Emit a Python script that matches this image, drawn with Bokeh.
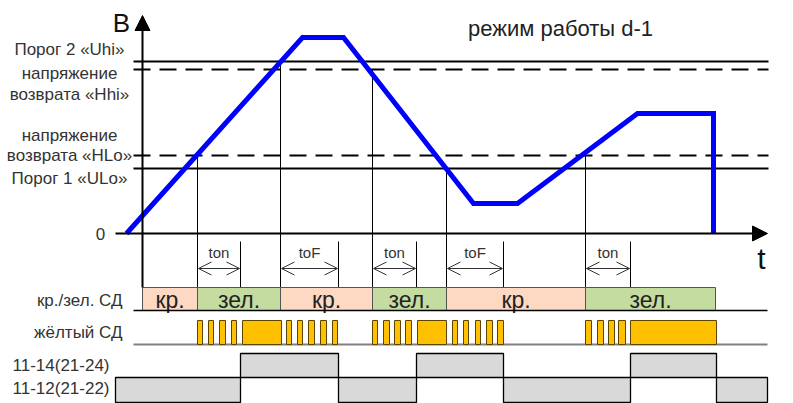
from bokeh.plotting import figure
from bokeh.models import Range1d, Arrow, NormalHead, OpenHead
from bokeh.core.properties import value
from bokeh.embed import file_html
from bokeh.resources import INLINE

# ---------------- data (time t, voltage v) ----------------
title = "режим работы d-1"
axis_v_label = "B"
axis_t_label = "t"
zero_label = "0"

voltage_t = [-16, 160, 201, 331, 375, 495, 571, 571]
voltage_v = [0, 196, 196, 30, 30, 120, 120, 0]

thr_top_label = "Порог 2 «Uhi»"
thr_hhi_label = ["напряжение", "возврата «Hhi»"]
thr_hlo_label = ["напряжение", "возврата «HLo»"]
thr_bot_label = "Порог 1 «ULo»"
thr_solid = [172, 65]          # Uhi, ULo
thr_dashed = [164, 78]         # Hhi, HLo

event_t = [55, 138, 230, 304, 443]
event_level = [78, 172, 164, 65, 78]
delay_end_t = [98, 196, 274, 361, 488]
delay_labels = ["ton", "toF", "ton", "toF", "ton"]

led_start = [0, 55, 138, 230, 304, 443]
led_end = [55, 138, 230, 304, 443, 573]
led_state = ["кр.", "зел.", "кр.", "зел.", "кр.", "зел."]

blink_start = [55, 66, 77, 89, 144, 155, 166, 178, 190, 230, 241, 252, 263,
               310, 321, 333, 344, 355, 443, 455, 466, 476]
blink_end = [60, 71, 83, 94, 149, 160, 172, 184, 195, 235, 247, 258, 269,
             315, 326, 338, 350, 361, 449, 461, 472, 483]
steady_start = [100, 275, 488]
steady_end = [139, 304, 574]

relay14_start = [98, 274, 488]
relay14_end = [196, 361, 574]
relay12_start = [-27, 196, 361, 574]
relay12_end = [98, 274, 488, 625]

row_labels = ["кр./зел. СД", "жёлтый СД", "11-14(21-24)", "11-12(21-22)"]

# ---------------- figure ----------------
FONT = value("Liberation Sans")
p = figure(width=793, height=403, output_backend="svg", toolbar_location=None,
           x_range=Range1d(-142, 651), y_range=Range1d(-170, 233),
           min_border=0, background_fill_color="white")
p.axis.visible = False
p.grid.visible = False
p.outline_line_color = None

def txt(x, y, t, size, align="center", color="#333333"):
    p.text(x=x, y=y, text=t, text_align=align, text_baseline="middle",
           text_font=FONT, text_font_size=value(size), text_color=color)

# threshold lines
x0, x1 = -9, 626
p.segment(x0=[x0] * 2, x1=[x1] * 2, y0=thr_solid, y1=thr_solid,
          line_color="black", line_width=2)
p.segment(x0=[x0] * 2, x1=[x1] * 2, y0=thr_dashed, y1=thr_dashed,
          line_color="black", line_width=2, line_dash="17 9")

# event verticals
row_top = -54
p.segment(x0=event_t, x1=event_t, y0=event_level, y1=[row_top] * len(event_t),
          line_color="black", line_width=1)
p.segment(x0=delay_end_t, x1=delay_end_t, y0=[-8] * len(delay_end_t),
          y1=[row_top] * len(delay_end_t), line_color="black", line_width=1)

# delay arrows and labels
for s, e, lab in zip(event_t, delay_end_t, delay_labels):
    p.add_layout(Arrow(start=OpenHead(size=13, line_width=1, line_color="#333333"),
                       end=OpenHead(size=13, line_width=1, line_color="#333333"),
                       x_start=s + 1, y_start=-35, x_end=e - 1, y_end=-35,
                       line_width=1, line_color="#333333"))
    txt((s + e) / 2, -19, [lab], "15px")

# axes
p.add_layout(Arrow(end=NormalHead(size=15, fill_color="black", line_color="black"),
                   x_start=0, y_start=row_top, x_end=0, y_end=218,
                   line_width=2, line_color="black"))
p.add_layout(Arrow(end=NormalHead(size=15, fill_color="black", line_color="black"),
                   x_start=-27, y_start=0, x_end=625, y_end=0,
                   line_width=2, line_color="black"))

# voltage curve
p.line(voltage_t, voltage_v, line_color="#0000FF", line_width=5, line_join="miter")

# LED red/green row
led_colors = ["#FDD8C2" if s == "кр." else "#C4DCA0" for s in led_state]
p.quad(left=led_start, right=led_end, top=row_top, bottom=-77,
       fill_color=led_colors, line_color="#555555", line_width=1)
txt([(a + b) / 2 for a, b in zip(led_start, led_end)], [-66] * len(led_state),
    led_state, "23px", color="#222222")
p.segment(x0=[-9], x1=[625], y0=[-77], y1=[-77], line_color="black", line_width=1.5)

# yellow LED row
p.segment(x0=[-9], x1=[625], y0=[-111], y1=[-111], line_color="#808080", line_width=2)
p.quad(left=blink_start, right=blink_end, top=-87, bottom=-111,
       fill_color="#FFC000", line_color="#5A4600", line_width=1)
p.quad(left=steady_start, right=steady_end, top=-87, bottom=-111,
       fill_color="#FFC000", line_color="#5A4600", line_width=1)

# relays
p.quad(left=relay14_start, right=relay14_end, top=-120, bottom=-144,
       fill_color="#D9D9D9", line_color="black", line_width=1.3)
p.quad(left=relay12_start, right=relay12_end, top=-144, bottom=-169,
       fill_color="#D9D9D9", line_color="black", line_width=1.3)

# labels
txt([-73], [184], [thr_top_label], "17px")
txt([-73, -73], [160, 139], thr_hhi_label, "17px")
txt([-73, -73], [98, 78], thr_hlo_label, "17px")
txt([-73], [55], [thr_bot_label], "17px")
txt([-42], [0], [zero_label], "17px")
txt([-21], [211], [axis_v_label], "26px", color="#111111")
txt([619], [-25], [axis_t_label], "30px", color="#111111")
txt([418], [205], [title], "22px", color="#222222")
txt([-20, -20], [-67, -99], row_labels[:2], "17px", align="right")
txt([-130, -130], [-132, -155], row_labels[2:], "17px", align="left")

open("out.html", "w").write(file_html(p, INLINE))
